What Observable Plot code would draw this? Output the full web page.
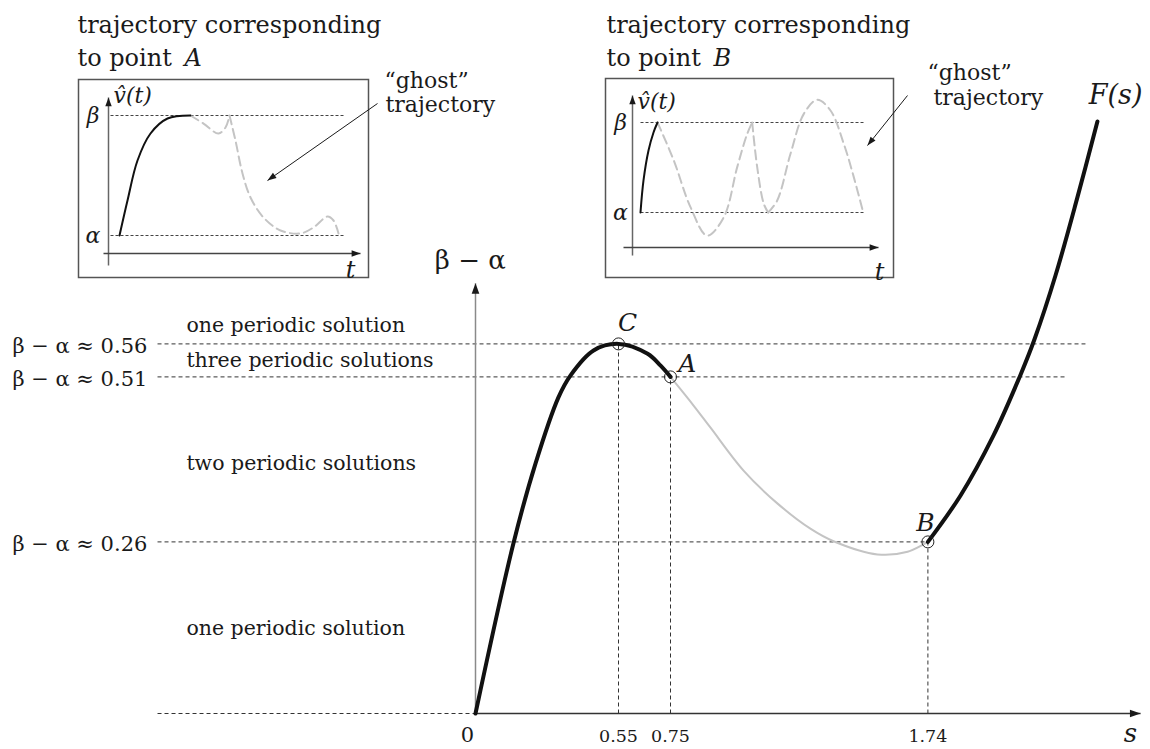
<!DOCTYPE html>
<html><head><meta charset="utf-8">
<script src="https://cdn.jsdelivr.net/npm/d3@7"></script>
<script src="https://cdn.jsdelivr.net/npm/@observablehq/plot@0.6"></script>
<style>
body{margin:0;background:#fff;}
#wrap{position:relative;width:1150px;height:749px;overflow:hidden;background:#fff;}
#wrap svg{position:absolute;left:0;top:0;background:transparent;}
</style></head><body><div id="wrap"></div>
<script>
// ---------- main curve F(s) ----------
const sBlackLeft  = [0, 0.146, 0.231, 0.319, 0.365, 0.454, 0.55, 0.662, 0.712, 0.75];
const fBlackLeft  = [0, 0.258, 0.379, 0.479, 0.512, 0.55, 0.56, 0.545, 0.527, 0.51];
const sGhost      = [0.75, 0.838, 0.904, 1.031, 1.162, 1.288, 1.377, 1.546, 1.662, 1.74];
const fGhost      = [0.51, 0.467, 0.433, 0.368, 0.318, 0.280, 0.261, 0.241, 0.245, 0.26];
const sBlackRight = [1.74, 1.865, 1.992, 2.096, 2.15, 2.231, 2.315, 2.392];
const fBlackRight = [0.26, 0.33, 0.421, 0.513, 0.567, 0.664, 0.782, 0.897];
const keyNames = ["C", "A", "B"];
const keyS = [0.55, 0.75, 1.74];
const keyF = [0.56, 0.51, 0.26];
const levelValues = [0.56, 0.51, 0.26, 0];
const levelStart = -1.223;
const levelEnd = [2.346, 2.277, 1.74, 0];
const levelLabels = ["β − α ≈ 0.56", "β − α ≈ 0.51", "β − α ≈ 0.26"];
const regionLabels = ["one periodic solution", "three periodic solutions", "two periodic solutions", "one periodic solution"];
const regionF = [0.588, 0.535, 0.379, 0.129];
const tickValues = [0.55, 0.75, 1.74];
const tickLabels = ["0.55", "0.75", "1.74"];
const sAxisEnd = 2.558, fAxisEnd = 0.652;

// ---------- inset A (trajectory for point A) ----------
const tA = [1.1, 1.9, 2.9, 4.2, 5.9, 8.2];
const vA = [0, 0.292, 0.625, 0.85, 0.975, 1.0];
const tGhostA1 = [8.2, 9.5, 11.0, 11.7, 12.1];
const vGhostA1 = [1.0, 0.933, 0.85, 0.9, 1.0];
const tGhostA2 = [12.1, 12.7, 13.4, 14.2, 15.5, 17.2, 19.2, 20.5, 21.9, 22.5, 23.0];
const vGhostA2 = [1.0, 0.79, 0.517, 0.317, 0.15, 0.042, 0.017, 0.067, 0.158, 0.125, 0.017];

// ---------- inset B (trajectory for point B) ----------
const tB = [0.8, 1.1, 1.6, 2.1, 2.5];
const vB = [0, 0.356, 0.689, 0.889, 1.0];
const tGhostB1 = [2.5, 4.13, 5.8, 7.47, 9.13, 10.47, 11.47, 11.97];
const vGhostB1 = [1.0, 0.578, 0.059, -0.256, -0.052, 0.504, 0.874, 1.0];
const tGhostB2 = [11.97, 12.47, 13.13, 13.57];
const vGhostB2 = [1.0, 0.504, 0.096, 0.0];
const tGhostB3 = [13.57, 14.47, 15.8, 17.13, 18.47, 19.8, 21.13, 22.13, 23.07];
const vGhostB3 = [0.0, 0.133, 0.652, 1.096, 1.252, 1.133, 0.763, 0.393, 0.0];

const font = "'DejaVu Serif', 'Liberation Serif', serif";
const ink = "#1a1a1a";
const ghostGray = "#c4c4c4";

const head = {draw(ctx, size) {
  const L = Math.sqrt(size);
  ctx.moveTo(0, 0); ctx.lineTo(0.36 * L, L); ctx.lineTo(-0.36 * L, L); ctx.closePath();
}};
const pts = (xs, ys) => xs.map((x, i) => ({x, y: ys[i]}));
function angle(sc, a, b) {
  const dx = sc.x(b[0]) - sc.x(a[0]), dy = sc.y(b[1]) - sc.y(a[1]);
  return Math.atan2(dx, -dy) * 180 / Math.PI;
}
const T = (opts) => ({fontFamily: font, fill: ink, ...opts});
const wrap = document.getElementById("wrap");

// ---------- main plot ----------
const mainXR = [475, 735], mainYR = [713, 53];
const main = Plot.plot({
  width: 1150, height: 749, margin: 0,
  x: {domain: [0, 1], range: mainXR, axis: null},
  y: {domain: [0, 1], range: mainYR, axis: null},
  style: {background: "transparent", fontFamily: font, color: ink},
  marks: [
    Plot.link(levelValues, {x1: () => levelStart, x2: (d, i) => levelEnd[i], y1: d => d, y2: d => d,
      stroke: "#333", strokeWidth: 1, strokeDasharray: "4,3"}),
    Plot.link(keyS, {x1: d => d, x2: d => d, y1: () => 0, y2: (d, i) => keyF[i],
      stroke: "#333", strokeWidth: 1, strokeDasharray: "4,3"}),
    // axes
    Plot.link([0], {x1: () => 0, x2: () => 0, y1: () => 0, y2: () => fAxisEnd, stroke: "#8a8a8a", strokeWidth: 1.5}),
    Plot.link([0], {x1: () => 0, x2: () => sAxisEnd, y1: () => 0, y2: () => 0, stroke: "#333", strokeWidth: 1.5}),
    Plot.dot([0], {x: () => sAxisEnd, y: () => 0, symbol: head, r: 6, fill: ink, stroke: "none", rotate: 90}),
    Plot.dot([0], {x: () => 0, y: () => fAxisEnd, symbol: head, r: 6, fill: ink, stroke: "none", rotate: 0}),
    // curve
    Plot.line(pts(sGhost, fGhost), {x: "x", y: "y", curve: "catmull-rom", stroke: ghostGray, strokeWidth: 2}),
    Plot.line(pts(sBlackLeft, fBlackLeft), {x: "x", y: "y", curve: "catmull-rom", stroke: "#111", strokeWidth: 4}),
    Plot.line(pts(sBlackRight, fBlackRight), {x: "x", y: "y", curve: "catmull-rom", stroke: "#111", strokeWidth: 4}),
    Plot.dot(keyS, {x: d => d, y: (d, i) => keyF[i], r: 6, fill: "none", stroke: "#222", strokeWidth: 1}),
    // labels
    Plot.text(keyNames, T({x: (d, i) => keyS[i] + [0.035, 0.065, -0.009][i], y: (d, i) => keyF[i] + [0.031, 0.02, 0.028][i],
      text: d => d, fontSize: 25, fontStyle: "italic"})),
    Plot.text(levelLabels, T({x: () => -1.262, y: (d, i) => levelValues[i] - 0.003, text: d => d,
      textAnchor: "end", fontSize: 21})),
    Plot.text(regionLabels, T({x: () => -1.112, y: (d, i) => regionF[i], text: d => d,
      textAnchor: "start", fontSize: 20.5})),
    Plot.text(tickLabels, T({x: (d, i) => tickValues[i], y: () => -0.035, text: d => d, fontSize: 17.5})),
    Plot.text(["0"], T({x: () => -0.031, y: () => -0.033, text: d => d, fontSize: 21})),
    Plot.text(["s"], T({x: () => 2.519, y: () => -0.031, text: d => d, fontSize: 26, fontStyle: "italic"})),
    Plot.text(["β − α"], T({x: () => -0.02, y: () => 0.686, text: d => d, fontSize: 26})),
    Plot.text(["F(s)"], T({x: () => 2.462, y: () => 0.936, text: d => d, fontSize: 27, fontStyle: "italic"}))
  ]
});
wrap.appendChild(main);

// ---------- insets ----------
function inset(cfg) {
  const sc = {x: d3.scaleLinear([0, 1], cfg.xr), y: d3.scaleLinear([0, 1], cfg.yr)};
  const rot = angle(sc, cfg.arrow[0], cfg.arrow[1]);
  return Plot.plot({
    width: 1150, height: 749,
    marginLeft: cfg.box[0], marginTop: cfg.box[1], marginRight: 1150 - cfg.box[2], marginBottom: 749 - cfg.box[3],
    x: {domain: [0, 1], range: cfg.xr, axis: null},
    y: {domain: [0, 1], range: cfg.yr, axis: null},
    style: {background: "transparent", fontFamily: font, color: ink},
    marks: [
      Plot.frame({stroke: "#555", strokeWidth: 1.5}),
      Plot.link([0, 1], {x1: () => cfg.level[0], x2: () => cfg.level[1], y1: d => d, y2: d => d,
        stroke: "#444", strokeWidth: 1, strokeDasharray: "3,2"}),
      Plot.link([0], {x1: () => 0, x2: () => 0, y1: () => cfg.yAxis[0], y2: () => cfg.yAxis[1], stroke: "#666", strokeWidth: 1.5}),
      Plot.link([0], {x1: () => cfg.xAxis[0], x2: () => cfg.xAxis[1], y1: () => cfg.xAxisV, y2: () => cfg.xAxisV, stroke: "#444", strokeWidth: 1.5}),
      Plot.dot([0], {x: () => 0, y: () => cfg.yAxis[1], symbol: head, r: 5, fill: ink, stroke: "none", rotate: 0}),
      Plot.dot([0], {x: () => cfg.xAxis[1], y: () => cfg.xAxisV, symbol: head, r: 5, fill: ink, stroke: "none", rotate: 90}),
      ...cfg.ghosts.map(g => Plot.line(pts(g[0], g[1]), {x: "x", y: "y", curve: "catmull-rom",
        stroke: ghostGray, strokeWidth: 2, strokeDasharray: "9,5"})),
      Plot.line(pts(cfg.solid[0], cfg.solid[1]), {x: "x", y: "y", curve: "catmull-rom", stroke: "#111", strokeWidth: 2}),
      Plot.text(["β", "α"], T({x: () => cfg.greekT, y: (d, i) => 1 - i, text: d => d, fontSize: 22, fontStyle: "italic"})),
      Plot.text(["v\u0302(t)"], T({x: () => cfg.vLabel[0], y: () => cfg.vLabel[1], text: d => d, textAnchor: "start",
        fontSize: 22, fontStyle: "italic"})),
      Plot.text(["t"], T({x: () => cfg.tLabel[0], y: () => cfg.tLabel[1], text: d => d, fontSize: 24, fontStyle: "italic"})),
      Plot.text([cfg.title[0], cfg.title[1]], T({x: () => cfg.titlePos[0], y: (d, i) => cfg.titlePos[1 + i], text: d => d,
        textAnchor: "start", fontSize: 24})),
      Plot.text([cfg.point], T({x: () => cfg.pointT, y: () => cfg.titlePos[2], text: d => d,
        textAnchor: "start", fontSize: 24, fontStyle: "italic"})),
      Plot.text(["\u201Cghost\u201D", "trajectory"], T({x: (d, i) => cfg.ghostLabel[i][0], y: (d, i) => cfg.ghostLabel[i][1],
        text: d => d, textAnchor: "start", fontSize: 22})),
      Plot.link([0], {x1: () => cfg.arrow[0][0], y1: () => cfg.arrow[0][1], x2: () => cfg.arrow[1][0], y2: () => cfg.arrow[1][1],
        stroke: ink, strokeWidth: 1}),
      Plot.dot([0], {x: () => cfg.arrow[1][0], y: () => cfg.arrow[1][1], symbol: head, r: 5, fill: ink, stroke: "none", rotate: rot})
    ]
  });
}

wrap.appendChild(inset({
  box: [78, 79, 368, 277], xr: [108, 118], yr: [235, 115],
  level: [0.2, 23.5], yAxis: [-0.25, 1.15], xAxis: [-0.5, 25.2], xAxisV: -0.15,
  ghosts: [[tGhostA1, vGhostA1], [tGhostA2, vGhostA2]], solid: [tA, vA],
  greekT: -1.55, vLabel: [0.5, 1.167], tLabel: [24.2, -0.29],
  title: ["trajectory corresponding", "to point"], titlePos: [-3.1, 1.75, 1.475], point: "A", pointT: 7.6,
  ghostLabel: [[27.6, 1.29], [27.7, 1.09]], arrow: [[26.9, 1.1], [15.9, 0.458]]
}));
wrap.appendChild(inset({
  box: [605, 78, 893, 277], xr: [632, 642], yr: [212, 122],
  level: [0.8, 23.3], yAxis: [-0.478, 1.3], xAxis: [-0.9, 24.6], xAxisV: -0.389,
  ghosts: [[tGhostB1, vGhostB1], [tGhostB2, vGhostB2], [tGhostB3, vGhostB3]], solid: [tB, vB],
  greekT: -1.2, vLabel: [0.5, 1.23], tLabel: [24.7, -0.667],
  title: ["trajectory corresponding", "to point"], titlePos: [-2.6, 2.078, 1.711], point: "B", pointT: 8.1,
  ghostLabel: [[29.5, 1.556], [30.1, 1.278]], arrow: [[27.5, 1.3], [23.5, 0.744]]
}));
</script></body></html>
